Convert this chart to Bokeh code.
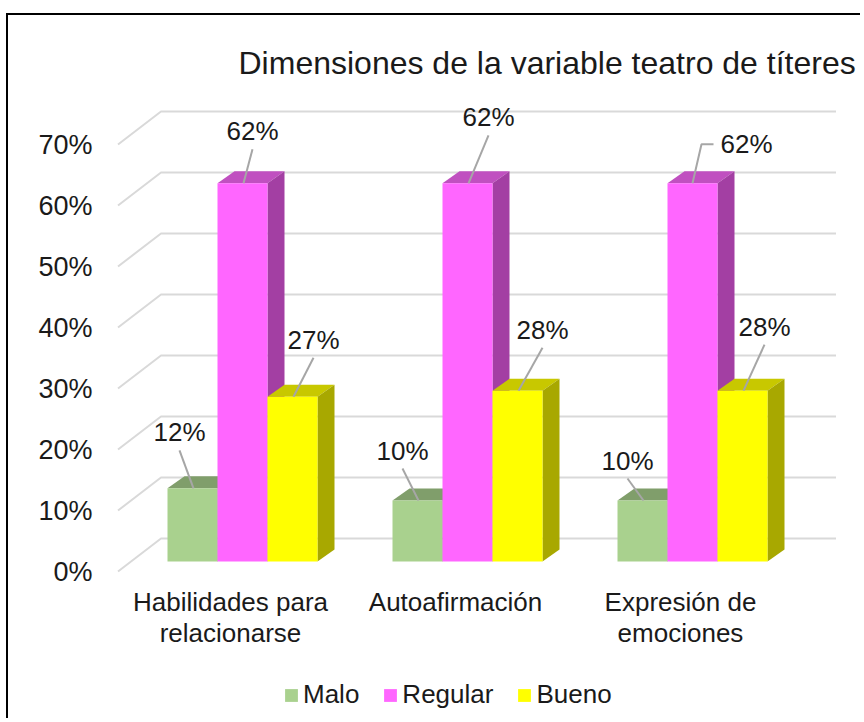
from bokeh.plotting import figure
from bokeh.models import Range1d, FixedTicker, PrintfTickFormatter
from bokeh.core.properties import value
from bokeh.embed import file_html
from bokeh.resources import INLINE

# ---------------- data ----------------
title = "Dimensiones de la variable teatro de títeres"
categories = ["Habilidades para\nrelacionarse", "Autoafirmación", "Expresión de\nemociones"]
series = ["Malo", "Regular", "Bueno"]
malo = [12, 10, 10]
regular = [62, 62, 62]
bueno = [27, 28, 28]
y_ticks = [0, 10, 20, 30, 40, 50, 60, 70]

# ---------------- styles ----------------
FONT = "Liberation Sans"
TXT = "#1a1a1a"
front_colors = ["#a9d18e", "#ff66ff", "#ffff00"]
top_colors = ["#809e6b", "#c050c0", "#c8c800"]
side_colors = ["#6c8759", "#a33fa3", "#a8a800"]
grid_color = "#d9d9d9"
leader_color = "#a6a6a6"

# data-label offsets in px (right, up) from each bar's front-top centre; [group][series]
label_dx = [[-13, 10, 21], [-15, 21, 25], [-15, 54, 22]]
label_dy = [[56, 52, 57], [50, 66, 61], [40, 39, 64]]
label_elbow = [[False, False, False], [False, False, False], [False, True, False]]

# ---------------- geometry (pixels) ----------------
W, H = 854, 705
MB_L, MB_R, MB_T, MB_B = 105, 15, 85, 0
FW = W - MB_L - MB_R
FH = H - MB_T - MB_B
PXG = 225.0   # px per category
PXP = 6.1     # px per percentage point
X0 = -0.52
ZERO_FROM_TOP = 471.0  # px from frame top to the front 0% line


def fx(px):
    return px / PXG


def fy(px):
    return px / PXP


y_top = ZERO_FROM_TOP / PXP
y_bot = y_top - FH / PXP

p = figure(width=W, height=H, output_backend="svg", toolbar_location=None,
           x_range=Range1d(X0, X0 + FW / PXG), y_range=Range1d(y_bot, y_top),
           x_axis_location=None, min_border_left=MB_L, min_border_right=MB_R,
           min_border_top=MB_T, min_border_bottom=MB_B,
           styles={"border-left": "2px solid #000", "border-top": "2px solid #000",
                   "margin-top": "13px", "margin-left": "6px"})
p.grid.visible = False
p.outline_line_color = None
p.background_fill_color = "white"
p.border_fill_color = "white"

# title
p.title.text = title
p.title.text_font = FONT
p.title.text_font_size = "32px"
p.title.text_font_style = "normal"
p.title.text_color = TXT
p.title.align = "left"
p.title.offset = 125
p.title.standoff = 39

# y axis
p.yaxis.ticker = FixedTicker(ticks=y_ticks)
p.yaxis.formatter = PrintfTickFormatter(format="%d%%")
p.yaxis.axis_line_color = None
p.yaxis.major_tick_line_color = None
p.yaxis.minor_tick_line_color = None
p.yaxis.major_label_standoff = 15
p.yaxis.major_label_text_font = FONT
p.yaxis.major_label_text_font_size = "27px"
p.yaxis.major_label_text_color = TXT

# ---------------- back wall gridlines ----------------
WX, WY = fx(43), fy(33)
n_cat = len(categories)
gx, gy = [], []
for t in y_ticks:
    gx.append([-0.5, -0.5 + WX, n_cat - 0.5 + WX])
    gy.append([t, t + WY, t + WY])
p.multi_line(gx, gy, line_color=grid_color, line_width=2)

# ---------------- 3-D bars ----------------
BW = fx(50)
SHX, SHY = fx(12), fy(10)
DX, DY = fx(17), fy(12)
all_vals = [malo, regular, bueno]
lab_x, lab_y, lab_t = [], [], []
lead_x, lead_y = [], []
for s, vals in enumerate(all_vals):
    txs, tys, sxs, sys_ = [], [], [], []
    lefts, rights, tops, bottoms = [], [], [], []
    for i, v in enumerate(vals):
        xl = i + (s - 1.5) * BW + SHX
        xr = xl + BW
        b = SHY
        t = SHY + v
        txs.append([xl, xr, xr + DX, xl + DX])
        tys.append([t, t, t + DY, t + DY])
        sxs.append([xr, xr + DX, xr + DX, xr])
        sys_.append([b, b + DY, t + DY, t])
        lefts.append(xl); rights.append(xr); tops.append(t); bottoms.append(b)
        # data label
        cx = (xl + xr) / 2
        lx = cx + fx(label_dx[i][s])
        ly = t + fy(label_dy[i][s])
        lab_x.append(lx); lab_y.append(ly); lab_t.append(f"{v}%")
        if label_elbow[i][s]:
            lead_x.append([lx - fx(33), lx - fx(45), cx])
            lead_y.append([ly, ly, t])
        else:
            lead_x.append([lx, cx + fx(1)])
            lead_y.append([ly - fy(18), t])
    p.patches(txs, tys, fill_color=top_colors[s], line_color=None)
    p.patches(sxs, sys_, fill_color=side_colors[s], line_color=None)
    p.quad(left=lefts, right=rights, top=tops, bottom=bottoms,
           fill_color=front_colors[s], line_color=None, legend_label=series[s])

p.multi_line(lead_x, lead_y, line_color=leader_color, line_width=2)
p.text(x=lab_x, y=lab_y, text=lab_t, text_font=value(FONT), text_font_size="26px",
       text_color=TXT, text_align="center", text_baseline="middle")

# category labels (front edge of the floor)
p.text(x=list(range(n_cat)), y=[-fy(15)] * n_cat, text=categories, text_font=value(FONT),
       text_font_size="26px", text_color=TXT, text_align="center", text_baseline="top",
       text_line_height=1.05)

# legend
lg = p.legend[0]
lg.orientation = "horizontal"
lg.location = (170, 10)
lg.padding = 0
lg.margin = 0
lg.spacing = 23
lg.label_standoff = 4
lg.glyph_width = 16
lg.glyph_height = 16
lg.border_line_color = None
lg.background_fill_alpha = 0
lg.label_text_font = FONT
lg.label_text_font_size = "26px"
lg.label_text_color = TXT

open("out.html", "w").write(file_html(p, INLINE))
